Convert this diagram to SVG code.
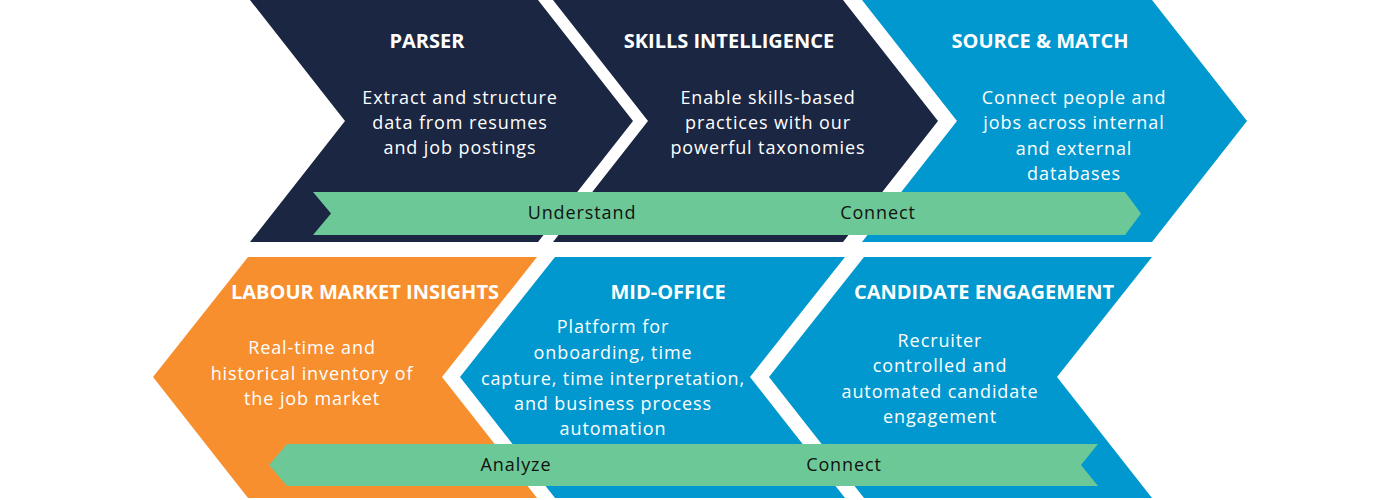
<svg xmlns="http://www.w3.org/2000/svg" width="1400" height="500" viewBox="0 0 1400 500">
<style>
.navy{fill:#1b2642}
.blue{fill:#0098ce}
.orange{fill:#f78f2e}
.band{fill:#6cc997}
.title{font-family:"Open Sans","Liberation Sans",sans-serif;font-weight:700;font-size:20px;fill:#ffffff;text-anchor:middle}
.body{font-family:"Open Sans","Liberation Sans",sans-serif;font-size:18px;letter-spacing:0.9px;fill:#ffffff;text-anchor:middle}
.blabel{font-family:"Open Sans","Liberation Sans",sans-serif;font-size:18px;letter-spacing:0.9px;fill:#111111;text-anchor:middle}
</style>
<rect width="1400" height="500" fill="#ffffff"/>
<g id="parser">
<polygon class="navy" points="250,0 538,0 633,121 538,242 250,242 345,121"/>
<text class="title" x="427" y="48">PARSER</text>
<text class="body"><tspan x="460" y="104">Extract and structure</tspan><tspan x="460" y="129">data from resumes</tspan><tspan x="460" y="154">and job postings</tspan></text>
</g>
<g id="skills-intelligence">
<polygon class="navy" points="553,0 843,0 938,121 843,242 553,242 648,121"/>
<text class="title" x="729" y="48">SKILLS INTELLIGENCE</text>
<text class="body"><tspan x="768" y="104">Enable skills-based</tspan><tspan x="768" y="129">practices with our</tspan><tspan x="768" y="154">powerful taxonomies</tspan></text>
</g>
<g id="source-match">
<polygon class="blue" points="862,0 1152,0 1247,121 1152,242 862,242 957,121"/>
<text class="title" x="1040" y="48">SOURCE &amp; MATCH</text>
<text class="body"><tspan x="1074" y="104">Connect people and</tspan><tspan x="1074" y="129">jobs across internal</tspan><tspan x="1074" y="155">and external</tspan><tspan x="1074" y="180">databases</tspan></text>
</g>
<g id="labour-market-insights">
<polygon class="orange" points="248,257 537,257 442,377 537,498 248,498 153,377"/>
<text class="title" x="365" y="299">LABOUR MARKET INSIGHTS</text>
<text class="body"><tspan x="312" y="354">Real-time and</tspan><tspan x="312" y="380">historical inventory of</tspan><tspan x="312" y="405">the job market</tspan></text>
</g>
<g id="mid-office">
<polygon class="blue" points="555,257 845,257 750,377 845,498 555,498 460,377"/>
<text class="title" x="668" y="299">MID-OFFICE</text>
<text class="body"><tspan x="613" y="333">Platform for</tspan><tspan x="613" y="359">onboarding, time</tspan><tspan x="613" y="385">capture, time interpretation,</tspan><tspan x="613" y="410">and business process</tspan><tspan x="613" y="435">automation</tspan></text>
</g>
<g id="candidate-engagement">
<polygon class="blue" points="864,257 1152,257 1057,377 1152,498 864,498 769,377"/>
<text class="title" x="984" y="299">CANDIDATE ENGAGEMENT</text>
<text class="body"><tspan x="940" y="347">Recruiter</tspan><tspan x="940" y="372">controlled and</tspan><tspan x="940" y="398">automated candidate</tspan><tspan x="940" y="423">engagement</tspan></text>
</g>
<g id="connectors">
<polygon class="band" points="313,192 1125,192 1141,213.5 1125,235 313,235 331,213.5"/>
<text class="blabel" x="582" y="219">Understand</text>
<text class="blabel" x="878" y="219">Connect</text>
<polygon class="band" points="287,444 1098,444 1081,465 1098,486 287,486 269,465"/>
<text class="blabel" x="516" y="471">Analyze</text>
<text class="blabel" x="844" y="471">Connect</text>
</g>
</svg>
